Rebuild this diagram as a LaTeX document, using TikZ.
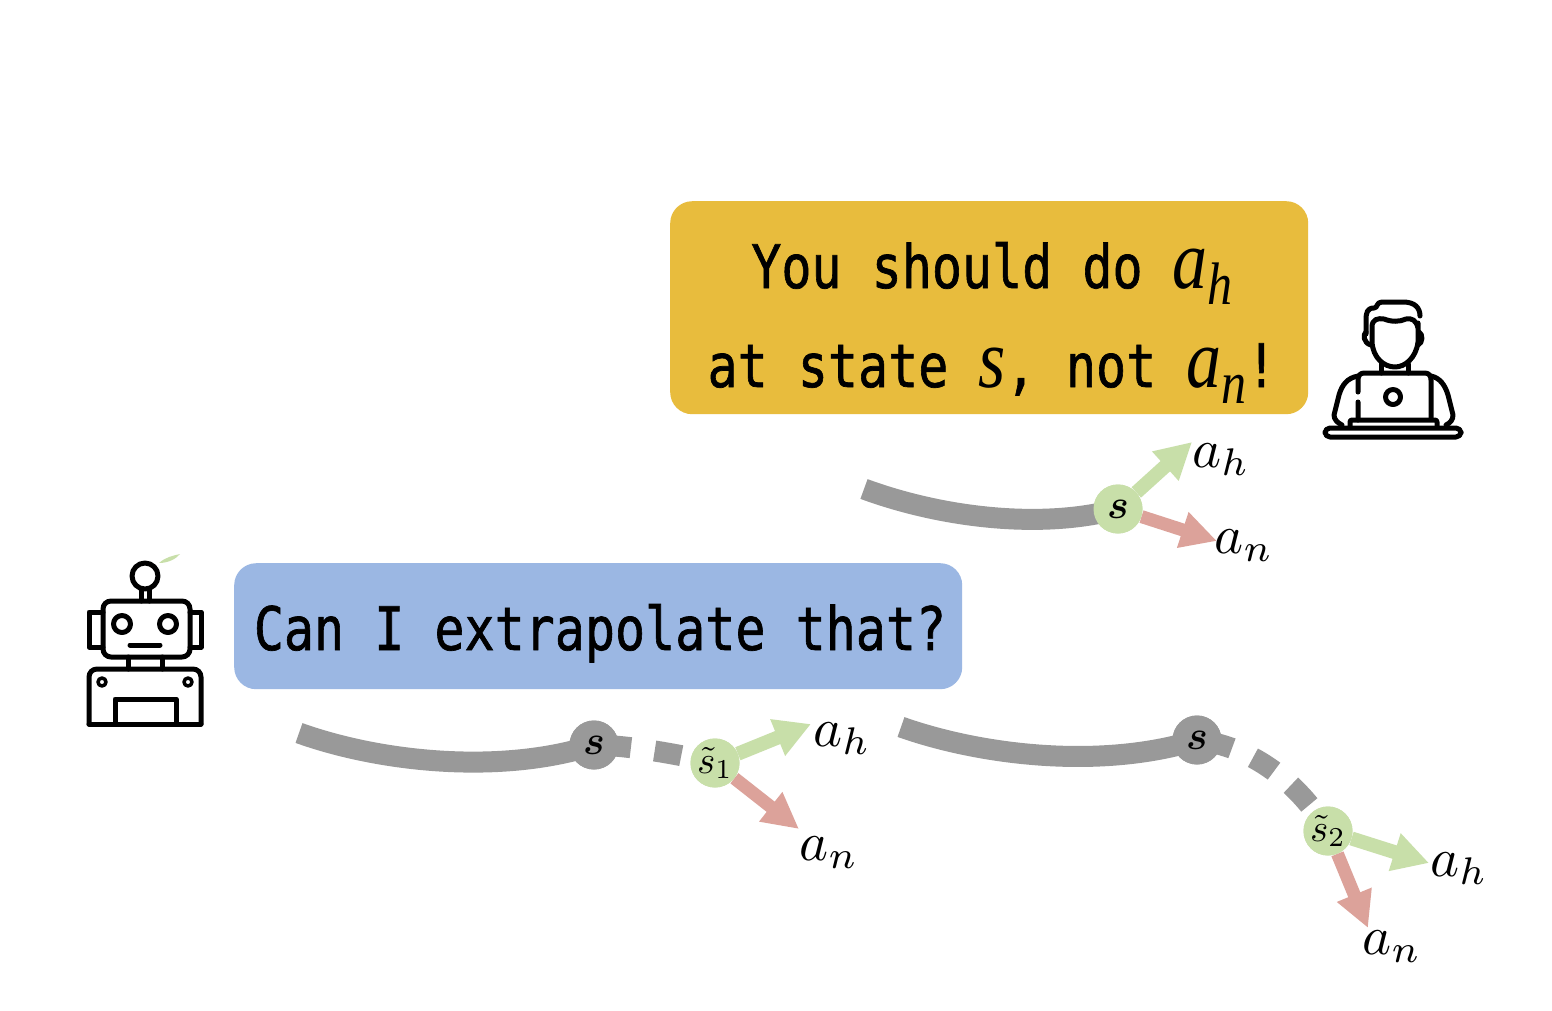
\documentclass[tikz,border=0pt]{standalone}
\usepackage{fontspec}
\usepackage{amsmath}
\usepackage{graphicx}
\newfontfamily\bubblefont{DejaVu Sans Mono}[FakeBold=1.2]
\newfontfamily\bubbleit{Liberation Serif}
\usetikzlibrary{arrows.meta}
\definecolor{trackgray}{HTML}{999999}
\definecolor{leafgreen}{HTML}{C8DFA9}
\definecolor{rosered}{HTML}{DCA29A}
\definecolor{goldbox}{HTML}{E8BC3D}
\definecolor{bluebox}{HTML}{9BB7E3}
\tikzset{
  track/.style={draw=trackgray,line width=21pt},
  goodarrow/.style={draw=leafgreen,line width=14pt,-{Triangle[length=36pt,width=37pt]}},
  badarrow/.style={draw=rosered,line width=13pt,-{Triangle[length=36pt,width=35pt]}},
  graydot/.style={circle,fill=trackgray,minimum size=49pt,inner sep=0pt},
  greendot/.style={circle,fill=leafgreen,minimum size=49pt,inner sep=0pt},
  bubble/.style={rounded corners=22pt,inner sep=0pt},
  bubbletext/.style={font=\fontsize{50}{50}\selectfont\bubblefont,inner sep=0pt,anchor=base},
  labeltext/.style={inner sep=0pt},
  icon/.style={draw=black,line width=5pt,line join=round,line cap=round,fill=none}
}
\newcommand{\tallb}[1]{\scalebox{1}[1.2]{#1}}
\newcommand{\bigmath}[1]{\scalebox{5.5}{$#1$}}
\newcommand{\dotmath}[1]{\scalebox{4.1}{$#1$}}
\newcommand{\tildemath}[1]{\scalebox{3.9}{$#1$}}
\begin{document}
\begin{tikzpicture}[x=1pt,y=-1pt]
\useasboundingbox[fill=white] (0,0) rectangle (1552,1010);
% bubbles
\node[bubble,fill=goldbox,minimum width=638pt,minimum height=213pt,anchor=north west] (gold) at (670,201) {};
\node[bubble,fill=bluebox,minimum width=728pt,minimum height=126pt,anchor=north west] (blue) at (234,563) {};
\node[bubbletext] (t1) at (992,288) {\tallb{You should do \fontsize{70}{70}\bubbleit\itshape a\raisebox{-14pt}{\fontsize{50}{50}\selectfont h}}};
\node[bubbletext] (t2) at (992,387) {\tallb{at state \fontsize{70}{70}\bubbleit\itshape s\fontsize{50}{50}\bubblefont\upshape, not \fontsize{70}{70}\bubbleit\itshape a\raisebox{-14pt}{\fontsize{50}{50}\selectfont n}\fontsize{50}{50}\bubblefont\upshape!}};
\node[bubbletext] (t3) at (600,650) {\tallb{Can I extrapolate that?}};
% top track
\coordinate (a0) at (864,489);
\node[greendot] (s0) at (1118,509) {};
\draw[track] (a0) .. controls (940,517) and (1040,530) .. (s0.center);
\coordinate (t0h) at (1192,442);
\coordinate (t0n) at (1217,541);
\draw[goodarrow] (s0) -- (t0h);
\draw[badarrow] (s0) -- (t0n);
\node[greendot] (s0) at (1118,509) {\dotmath{\boldsymbol{s}}};
\node[labeltext] (l0h) at (1221,460) {\bigmath{a_h}};
\node[labeltext] (l0n) at (1244,546) {\bigmath{a_n}};
% left track
\coordinate (b0) at (299,733);
\node[graydot] (g1) at (594,745) {};
\draw[track] (b0) .. controls (380,762) and (500,775) .. (g1.center);
\node[greendot] (s1) at (715,763) {};
\draw[track,dash pattern=on 37pt off 24pt on 27pt off 100pt] (g1.center) .. controls (620,745) and (670,752) .. (s1.center);
\coordinate (t1h) at (811,724);
\coordinate (t1n) at (799,829);
\draw[goodarrow] (s1) -- (t1h);
\draw[badarrow] (s1) -- (t1n);
\node[graydot] (g1) at (594,745) {\dotmath{\boldsymbol{s}}};
\node[greendot] (s1) at (715,763) {\tildemath{\tilde{s}_1}};
\node[labeltext] (l1h) at (842,739) {\bigmath{a_h}};
\node[labeltext] (l1n) at (829,853) {\bigmath{a_n}};
% right track
\coordinate (c0) at (901,727);
\node[graydot] (g2) at (1197,740) {};
\draw[track] (c0) .. controls (980,755) and (1100,770) .. (g2.center);
\node[greendot] (s2) at (1328,831) {};
\draw[track,dash pattern=on 36pt off 23pt on 25pt off 22pt on 27pt off 100pt] (g2.center) .. controls (1240,745) and (1290,770) .. (s2.center);
\coordinate (t2h) at (1429,863);
\coordinate (t2n) at (1368,928);
\draw[goodarrow] (s2) -- (t2h);
\draw[badarrow] (s2) -- (t2n);
\node[graydot] (g2) at (1197,740) {\dotmath{\boldsymbol{s}}};
\node[greendot] (s2) at (1328,831) {\tildemath{\tilde{s}_2}};
\node[labeltext] (l2h) at (1459,869) {\bigmath{a_h}};
\node[labeltext] (l2n) at (1392,947) {\bigmath{a_n}};
% robot
\begin{scope}[icon]
\draw (145,576) circle (13pt);
\draw (141,590) -- (141,601) (149,590) -- (149,601);
\draw[rounded corners=8pt] (103,601) rectangle (190,657);
\draw (103,612) -- (89,612) -- (89,647) -- (103,647);
\draw (190,612) -- (201,612) -- (201,647) -- (190,647);
\draw (122,624) circle (8.5pt);
\draw (168,624) circle (8.5pt);
\draw (130,645) -- (160,645);
\draw (128,657) -- (128,669) (162,657) -- (162,669);
\draw[rounded corners=8pt] (89,724) -- (89,669) -- (201,669) -- (201,724);
\draw (89,724) -- (201,724);
\draw (115,724) -- (115,699) -- (176,699) -- (176,724);
\draw[line width=3.5pt] (102,682) circle (4pt);
\draw[line width=3.5pt] (188,682) circle (4pt);
\end{scope}
\fill[leafgreen] (159,563) .. controls (166,557) and (172,556) .. (180,554) .. controls (176,559) and (168,563) .. (159,563) -- cycle;
% person
\begin{scope}[icon]
\draw (1420,316) .. controls (1420,308) and (1415,302) .. (1403,302) -- (1382,302) .. controls (1376,302) and (1378,308) .. (1374,308) .. controls (1367,308) and (1366,313) .. (1366,320) -- (1366,334);
\draw (1418,323) -- (1418,342) .. controls (1416,358) and (1405,367) .. (1395,367) .. controls (1384,367) and (1373,358) .. (1372,342) -- (1372,327) .. controls (1372,319) and (1378,318) .. (1384,319) .. controls (1392,322) and (1399,322) .. (1406,319) .. controls (1412,318) and (1416,320) .. (1418,328);
\draw (1366,332) .. controls (1363,334) and (1363,343) .. (1371,345);
\draw (1419,332) .. controls (1423,334) and (1423,343) .. (1418,345);
\draw (1381,364) -- (1381,373) (1408,364) -- (1408,373);
\draw (1358,420) -- (1358,402) (1358,392) -- (1358,380) .. controls (1358,376) and (1360,373) .. (1364,373) -- (1425,373) .. controls (1429,373) and (1431,376) .. (1431,380) -- (1431,418);
\draw (1358,376) .. controls (1347,378) and (1342,385) .. (1339,395) -- (1334,415) .. controls (1334,420) and (1338,423) .. (1342,425);
\draw (1431,376) .. controls (1440,378) and (1445,385) .. (1448,395) -- (1453,415) .. controls (1453,420) and (1450,423) .. (1446,425);
\draw (1393,397) circle (7.5pt);
\draw[rounded corners=2pt] (1350,426) -- (1350,420) -- (1437,420) -- (1437,426);
\draw[rounded corners=5pt] (1325,428) rectangle (1461,437);
\end{scope}
\end{tikzpicture}
\end{document}
